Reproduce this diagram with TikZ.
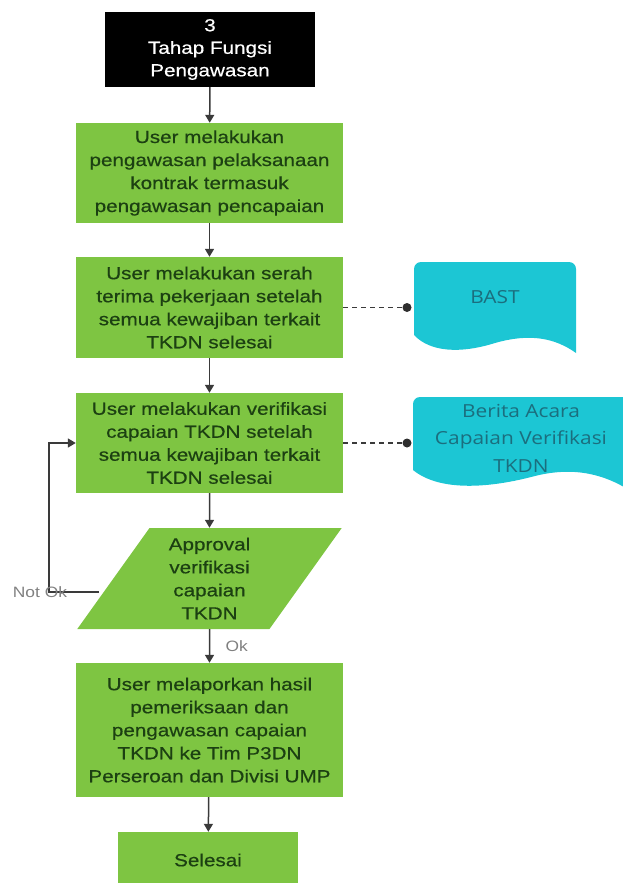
\documentclass[tikz,border=0pt]{standalone}
\usepackage{fontspec}
\setmainfont{Liberation Sans}[FakeStretch=1.18, FakeBold=0.5]
\newfontfamily\docfont{Open Sans}[FakeStretch=1.16]
\newfontfamily\labelfont{Liberation Sans}[FakeStretch=1.16]
\usepackage{tikz}
\usetikzlibrary{arrows.meta, shapes.geometric}
\definecolor{hijau}{RGB}{126,197,66}
\definecolor{teks}{RGB}{28,64,18}
\definecolor{tosca}{RGB}{28,198,212}
\definecolor{teksdok}{RGB}{27,110,126}
\definecolor{garis}{RGB}{58,58,58}
\tikzset{
  proses/.style={draw=none, fill=hijau, text=teks, align=center, inner sep=0pt,
    minimum width=267pt, font=\fontsize{17.5}{23}\selectfont},
  mulai/.style={fill=black, text=white, align=center, inner sep=0pt,
    minimum width=210pt, minimum height=75pt, font=\fontsize{17.5}{22.5}\selectfont},
  keputusan/.style={trapezium, trapezium left angle=59, trapezium right angle=121,
    trapezium stretches=true, fill=hijau, text=teks, align=center, inner sep=0pt,
    minimum width=265pt, minimum height=101pt, font=\fontsize{17.5}{23}\selectfont},
  panah/.style={draw=garis, line width=1.5pt, -{Triangle[length=8pt,width=9pt]}},
  putus/.style={draw=garis, line width=1.4pt, dash pattern=on 5pt off 4pt},
  titik/.style={circle, fill=garis!80!black, inner sep=0pt, minimum size=9pt},
  dokumen/.style={fill=tosca},
  teksdokumen/.style={text=teksdok, align=center, font=\docfont\fontsize{18}{27.5}\selectfont},
  label/.style={text=gray, font=\labelfont\fontsize{15}{15}\selectfont}
}
\begin{document}
\begin{tikzpicture}[x=1pt, y=-1pt]
  \useasboundingbox (0,0) rectangle (622,883);
  \node[mulai] (start) at (210,49.5) {3\\Tahap Fungsi\\Pengawasan};
  \node[proses, minimum height=100pt] (p1) at (209.5,173)
    {User melakukan\\pengawasan pelaksanaan\\kontrak termasuk\\pengawasan pencapaian};
  \node[proses, minimum height=101pt] (p2) at (209.5,307.5)
    {User melakukan serah\\terima pekerjaan setelah\\semua kewajiban terkait\\TKDN selesai};
  \node[proses, minimum height=100pt] (p3) at (209.5,443)
    {User melakukan verifikasi\\capaian TKDN setelah\\semua kewajiban terkait\\TKDN selesai};
  \node[keputusan] (appr) at (209.5,578.5) {Approval\\verifikasi\\capaian\\TKDN};
  \node[proses, minimum height=134pt] (p4) at (209.5,730)
    {User melaporkan hasil\\pemeriksaan dan\\pengawasan capaian\\TKDN ke Tim P3DN\\Perseroan dan Divisi UMP};
  \node[proses, minimum width=180pt, minimum height=56pt] (selesai) at (208,860) {Selesai};

  \fill[dokumen] (414,335) [rounded corners=7pt] -- (414,262) -- (576,262) [sharp corners] -- (576,353)
    .. controls (555,338) and (530,333) .. (495,343)
    .. controls (460,354) and (430,352) .. (414,335) -- cycle;
  \node[teksdokumen] (bast) at (495,297) {BAST};
  \fill[dokumen] (413,470) [rounded corners=7pt] -- (413,397) -- (629,397) [sharp corners] -- (629,490)
    .. controls (605,475) and (575,466) .. (535,476)
    .. controls (490,488) and (440,492) .. (413,470) -- cycle;
  \node[teksdokumen] (ba) at (521,438) {Berita Acara\\Capaian Verifikasi\\TKDN};

  \node[titik] (d1) at (407,307.5) {};
  \node[titik] (d2) at (407,443) {};
  \draw[putus] (p2.east) -- (d1);
  \draw[putus] (p3.east) -- (d2);

  \draw[panah] (start) -- (p1);
  \draw[panah] (p1) -- (p2);
  \draw[panah] (p2) -- (p3);
  \draw[panah] (p3) -- (appr);
  \draw[panah] (appr) -- (p4) node[label, pos=0.5, right=12pt] {Ok};
  \draw[panah] (p4) -- (selesai);

  \coordinate (notok) at (99,592);
  \draw[panah] (notok) -- (49,592) |- (p3.west);
  \node[label] (nok) at (40,592) {Not Ok};
\end{tikzpicture}
\end{document}
